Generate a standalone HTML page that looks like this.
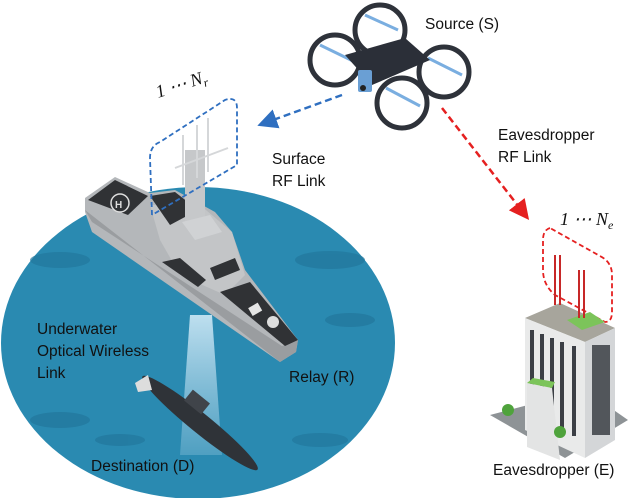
<!DOCTYPE html>
<html><head><meta charset="utf-8"><style>
body{margin:0;background:#fff}
svg{display:block}
text{font-family:"Liberation Sans",sans-serif;font-size:15.5px;fill:#111}
.m{font-family:"Liberation Serif",serif;font-style:italic;font-size:18px}
</style></head><body>
<svg width="640" height="498" viewBox="0 0 640 498">
<defs>
<marker id="ab" markerWidth="8" markerHeight="8" refX="6" refY="4" orient="auto"><path d="M0,0 L8,4 L0,8 z" fill="#2f6fc0"/></marker>
<marker id="ar" markerWidth="8" markerHeight="8" refX="6" refY="4" orient="auto"><path d="M0,0 L8,4 L0,8 z" fill="#e52020"/></marker>
<linearGradient id="beam" x1="0" y1="0" x2="0" y2="1"><stop offset="0" stop-color="#d8eefa" stop-opacity=".85"/><stop offset="1" stop-color="#bfe0f2" stop-opacity=".25"/></linearGradient>
</defs>
<ellipse cx="198" cy="343" rx="197" ry="156" fill="#2a8ab1"/>
<g fill="#22779c" opacity=".7">
<ellipse cx="60" cy="260" rx="30" ry="8"/><ellipse cx="330" cy="260" rx="35" ry="9"/><ellipse cx="350" cy="320" rx="25" ry="7"/>
<ellipse cx="60" cy="420" rx="30" ry="8"/><ellipse cx="120" cy="440" rx="25" ry="6"/><ellipse cx="320" cy="440" rx="28" ry="7"/>
</g>
<polygon points="190,315 212,315 222,455 180,455" fill="url(#beam)"/>
<!-- ship -->
<polygon points="85,198 115,177 150,193 175,190 215,212 232,232 245,270 298,340 296,352 280,362 92,232 85,212" fill="#b4b7ba"/>
<polygon points="85,210 280,362 296,352 298,340 282,346 92,222" fill="#9a9da0"/>
<polygon points="150,205 200,205 232,232 245,275 225,295 180,275 160,240" fill="#c3c5c7"/>
<polygon points="88,200 115,180 148,196 128,215" fill="#303235"/>
<polygon points="150,196 175,192 198,210 170,225" fill="#303235"/>
<polygon points="162,262 180,258 206,280 198,287" fill="#303235"/>
<polygon points="220,292 250,282 298,340 285,346" fill="#303235"/>
<polygon points="210,268 235,258 240,270 215,280" fill="#303235"/>
<circle cx="120" cy="203" r="9" fill="#303235" stroke="#ddd" stroke-width="1.5"/><text x="115" y="208" style="fill:#ddd;font-size:10px;font-weight:bold">H</text>
<rect x="185" y="150" width="20" height="75" fill="#c6c8ca"/>
<polygon points="182,222 210,215 222,232 195,240" fill="#d0d2d4"/>
<g stroke="#d5d7d9" stroke-width="2"><line x1="183" y1="135" x2="183" y2="185"/><line x1="197" y1="125" x2="197" y2="178"/><line x1="208" y1="118" x2="208" y2="172"/><line x1="175" y1="168" x2="228" y2="148"/></g>
<rect x="250" y="305" width="11" height="9" fill="#e5e5e5" transform="rotate(-30 255 310)"/>
<circle cx="273" cy="322" r="6" fill="#ddd"/>
<!-- sub -->
<ellipse cx="200" cy="423" rx="74" ry="10" fill="#2f3338" transform="rotate(39 200 423)"/>
<rect x="186" y="395" width="22" height="14" fill="#40444a" transform="rotate(39 197 402)"/>
<polygon points="135,383 148,375 152,390 138,392" fill="#ddd"/>
<!-- blue box & arrow -->
<path d="M152,215 L150,158 Q150,146 160,142 L225,100 Q237,96 237,108 L237,165 L152,215" fill="none" stroke="#2f6fc0" stroke-width="1.8" stroke-dasharray="5,3"/>
<line x1="342" y1="95" x2="262" y2="124" stroke="#2f6fc0" stroke-width="2.5" stroke-dasharray="7,4" marker-end="url(#ab)"/>
<text x="158" y="98" class="m" transform="rotate(-18 158 98)">1 ⋯ N<tspan font-size="12" dy="4">r</tspan></text>
<!-- drone -->
<g fill="none" stroke="#2e323a" stroke-width="5">
<circle cx="380" cy="30" r="25"/><circle cx="335" cy="60" r="25"/><circle cx="444" cy="72" r="25"/><circle cx="402" cy="103" r="25"/>
</g>
<g stroke="#7aaee0" stroke-width="3"><line x1="365" y1="15" x2="398" y2="30"/><line x1="320" y1="45" x2="355" y2="62"/><line x1="428" y1="58" x2="462" y2="75"/><line x1="386" y1="88" x2="420" y2="106"/></g>
<polygon points="345,55 405,38 430,60 372,85" fill="#2b2f38"/>
<rect x="358" y="70" width="14" height="22" fill="#6a9fd4" rx="2"/>
<circle cx="363" cy="88" r="3" fill="#222"/>
<!-- red link -->
<line x1="442" y1="108" x2="526" y2="216" stroke="#e52020" stroke-width="2.5" stroke-dasharray="7,4" marker-end="url(#ar)"/>
<path d="M550,228 Q543,230 543,240 L543,270 Q543,285 555,295 L605,322 Q612,322 612,312 L612,275 Q612,262 600,256 Z" fill="none" stroke="#e52020" stroke-width="1.8" stroke-dasharray="5,3"/>
<text x="560" y="225" class="m">1 ⋯ N<tspan font-size="12" dy="4">e</tspan></text>
<!-- building -->
<polygon points="490,415 585,390 628,420 565,458" fill="#8e9396"/>
<polygon points="525,318 560,303 615,328 585,342" fill="#a7a59c"/>
<polygon points="525,318 585,342 585,458 525,430" fill="#e9eaea"/>
<polygon points="585,342 615,328 615,440 585,458" fill="#d4d6d8"/>
<g fill="#3b3f45">
<rect x="530" y="330" width="4" height="90"/><rect x="540" y="334" width="4" height="90"/><rect x="550" y="338" width="4" height="90"/><rect x="560" y="342" width="4" height="90"/><rect x="572" y="346" width="4" height="90"/>
<rect x="592" y="345" width="18" height="90" opacity=".85"/>
</g>
<polygon points="527,383 552,388 560,460 527,447" fill="#e3e4e4"/>
<polygon points="527,383 552,388 555,382 533,378" fill="#7cc45a"/>
<polygon points="567,320 590,312 605,322 582,330" fill="#7cc45a"/>
<circle cx="508" cy="410" r="6" fill="#4fa33c"/><circle cx="560" cy="432" r="6" fill="#4fa33c"/>
<g stroke="#c72828" stroke-width="2"><line x1="555" y1="255" x2="555" y2="305"/><line x1="560" y1="255" x2="560" y2="305"/><line x1="579" y1="270" x2="579" y2="318"/><line x1="584" y1="270" x2="584" y2="318"/></g>
<!-- labels -->
<text x="425" y="29">Source (S)</text>
<text x="272" y="164">Surface</text><text x="272" y="186">RF Link</text>
<text x="498" y="140">Eavesdropper</text><text x="498" y="162">RF Link</text>
<text x="37" y="334">Underwater</text><text x="37" y="356">Optical Wireless</text><text x="37" y="378">Link</text>
<text x="289" y="382">Relay (R)</text>
<text x="91" y="471">Destination (D)</text>
<text x="493" y="475">Eavesdropper (E)</text>
</svg>
</body></html>
